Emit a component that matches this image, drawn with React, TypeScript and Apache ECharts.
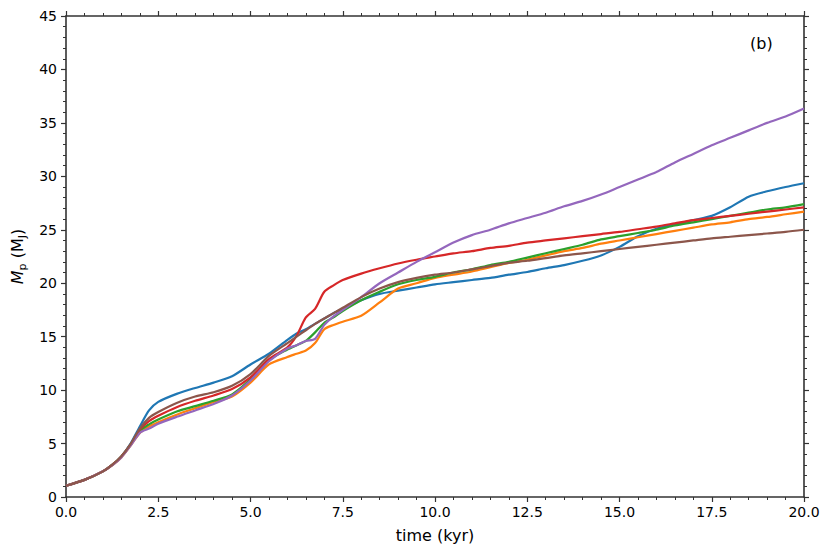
import React, { useEffect, useRef } from "react";
import * as echarts from "echarts";

const T = [0, 0.5, 1, 1.25, 1.5, 1.75, 2, 2.25, 2.5, 3, 3.5, 4, 4.5, 5, 5.5, 6, 6.25, 6.5, 6.75, 7, 7.25, 7.5, 8, 8.5, 9, 9.5, 10, 10.5, 11, 11.5, 12, 12.5, 13, 13.5, 14, 14.5, 15, 15.5, 16, 16.5, 17, 17.5, 18, 18.5, 19, 19.5, 20];

const blueM = [1.05, 1.6, 2.4, 3.0, 3.8, 5.0, 6.6, 8.1, 8.9, 9.65, 10.2, 10.7, 11.3, 12.4, 13.4, 14.7, 15.3, 15.7, 16.2, 16.7, 17.2, 17.6, 18.4, 19.0, 19.3, 19.6, 19.9, 20.1, 20.3, 20.5, 20.8, 21.05, 21.4, 21.7, 22.1, 22.6, 23.4, 24.4, 25.1, 25.5, 25.9, 26.3, 27.1, 28.1, 28.6, 29.0, 29.35];
const orangeM = [1.05, 1.6, 2.4, 2.95, 3.7, 4.8, 6.0, 6.6, 7.0, 7.7, 8.3, 8.9, 9.4, 10.7, 12.4, 13.1, 13.4, 13.7, 14.4, 15.7, 16.1, 16.4, 16.95, 18.2, 19.5, 20.0, 20.5, 20.8, 21.1, 21.5, 21.9, 22.2, 22.6, 23.0, 23.3, 23.7, 24.0, 24.3, 24.6, 24.9, 25.2, 25.5, 25.7, 26.0, 26.2, 26.45, 26.7];
const greenM = [1.05, 1.6, 2.4, 3.0, 3.8, 4.9, 6.2, 6.8, 7.25, 8.0, 8.5, 9.0, 9.6, 11.0, 12.8, 13.8, 14.2, 14.6, 15.4, 16.3, 16.8, 17.4, 18.4, 19.2, 19.9, 20.3, 20.6, 21.0, 21.3, 21.7, 22.0, 22.4, 22.8, 23.2, 23.6, 24.1, 24.4, 24.7, 25.0, 25.4, 25.7, 26.0, 26.3, 26.6, 26.9, 27.1, 27.4];
const redM = [1.05, 1.6, 2.4, 3.0, 3.8, 4.9, 6.3, 7.1, 7.6, 8.4, 9.0, 9.5, 10.1, 11.2, 12.9, 14.0, 15.1, 16.8, 17.6, 19.2, 19.8, 20.3, 20.9, 21.4, 21.85, 22.2, 22.5, 22.8, 23.0, 23.3, 23.5, 23.8, 24.0, 24.2, 24.4, 24.6, 24.8, 25.05, 25.3, 25.6, 25.9, 26.1, 26.3, 26.5, 26.7, 26.9, 27.1];
const purpleM = [1.05, 1.6, 2.4, 2.95, 3.7, 4.8, 6.0, 6.4, 6.85, 7.5, 8.1, 8.7, 9.5, 10.9, 12.7, 13.9, 14.2, 14.6, 14.8, 16.1, 16.9, 17.5, 18.7, 20.0, 21.0, 22.0, 22.9, 23.8, 24.5, 25.0, 25.6, 26.1, 26.6, 27.2, 27.7, 28.3, 29.0, 29.7, 30.4, 31.3, 32.1, 32.9, 33.6, 34.3, 35.0, 35.6, 36.35];
const brownM = [1.05, 1.6, 2.4, 3.0, 3.8, 4.95, 6.4, 7.4, 7.95, 8.8, 9.4, 9.8, 10.4, 11.5, 13.2, 14.4, 15.0, 15.6, 16.2, 16.7, 17.2, 17.7, 18.7, 19.5, 20.1, 20.5, 20.8, 21.0, 21.3, 21.6, 21.9, 22.1, 22.35, 22.6, 22.8, 23.0, 23.2, 23.4, 23.6, 23.8, 24.0, 24.2, 24.35, 24.5, 24.65, 24.8, 25.0];

const seriesList = [
  { name: "C0", color: "#1f77b4", values: blueM },
  { name: "C1", color: "#ff7f0e", values: orangeM },
  { name: "C2", color: "#2ca02c", values: greenM },
  { name: "C3", color: "#d62728", values: redM },
  { name: "C4", color: "#9467bd", values: purpleM },
  { name: "C5", color: "#8c564b", values: brownM },
];

const FONT = "DejaVu Sans";
const AXIS_COLOR = "#333333";

export default function App() {
  const ref = useRef<HTMLDivElement>(null);
  useEffect(() => {
    if (!ref.current) return;
    const chart = echarts.init(ref.current, null, { renderer: "svg" });
    const axisCommon = {
      type: "value" as const,
      axisLine: { show: true, onZero: false, lineStyle: { color: AXIS_COLOR, width: 1.6 } },
      axisTick: { show: true, inside: false, length: 5, lineStyle: { color: AXIS_COLOR, width: 1.2 } },
      minorTick: { show: true, splitNumber: 5, length: 3, lineStyle: { color: AXIS_COLOR, width: 1 } },
      splitLine: { show: false },
      minorSplitLine: { show: false },
    };
    chart.setOption({
      animation: false,
      textStyle: { fontFamily: FONT },
      grid: { left: 66, right: 27, top: 16, bottom: 57, outerBoundsMode: "none", containLabel: false },
      xAxis: [
        {
          ...axisCommon,
          position: "bottom",
          min: 0,
          max: 20,
          interval: 2.5,
          axisLabel: {
            color: "#000",
            fontSize: 14,
            fontFamily: FONT,
            margin: 8,
            formatter: (v: number) => v.toFixed(1),
          },
          name: "time (kyr)",
          nameLocation: "middle",
          nameGap: 30,
          nameTextStyle: { color: "#000", fontSize: 16, fontFamily: FONT },
        },
        {
          ...axisCommon,
          position: "top",
          min: 0,
          max: 20,
          interval: 2.5,
          axisLabel: { show: false },
        },
      ],
      yAxis: [
        {
          ...axisCommon,
          position: "left",
          min: 0,
          max: 45,
          interval: 5,
          axisLabel: { color: "#000", fontSize: 14, fontFamily: FONT, margin: 9 },
          name: "{m|M}{s|p} (M{s|J})",
          nameLocation: "middle",
          nameGap: 38,
          nameRotate: 90,
          nameTextStyle: {
            color: "#000",
            fontSize: 16,
            fontFamily: FONT,
            lineHeight: 22,
            rich: {
              m: { fontStyle: "italic", fontSize: 16, fontFamily: FONT, color: "#000", lineHeight: 22 },
              s: { fontSize: 11, fontFamily: FONT, color: "#000", lineHeight: 12, verticalAlign: "bottom" },
            },
          },
        },
        {
          ...axisCommon,
          position: "right",
          min: 0,
          max: 45,
          interval: 5,
          axisLabel: { show: false },
        },
      ],
      graphic: [
        {
          type: "text",
          left: 750,
          top: 35,
          style: { text: "(b)", fontSize: 16, fontFamily: FONT, fill: "#000" },
        },
      ],
      series: seriesList.map((s) => ({
        name: s.name,
        type: "line",
        xAxisIndex: 0,
        yAxisIndex: 0,
        showSymbol: false,
        symbol: "none",
        smooth: 0.25,
        color: s.color,
        lineStyle: { color: s.color, width: 2.2 },
        data: T.map((t, i) => [t, s.values[i]]),
      })),
    });
    return () => chart.dispose();
  }, []);
  return (
    <div
      ref={ref}
      style={{ position: "fixed", left: 0, top: 0, width: 831, height: 554, background: "#fff" }}
    />
  );
}
